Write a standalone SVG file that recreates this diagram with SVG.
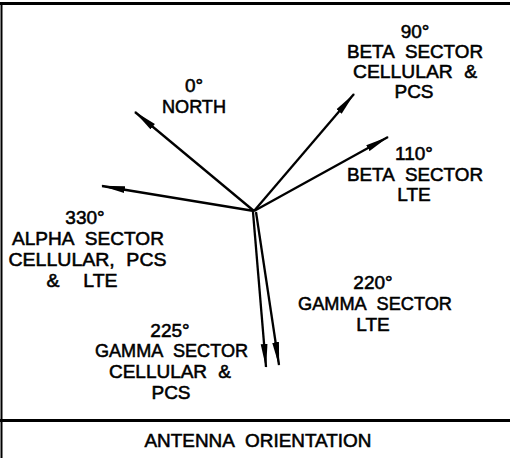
<svg xmlns="http://www.w3.org/2000/svg" width="510" height="458" viewBox="0 0 510 458">
<style>
text{font-family:"Liberation Sans",Arial,sans-serif;font-size:19px;fill:#000;text-anchor:middle;stroke:#000;stroke-width:0.55;word-spacing:6px}
.frame{stroke:#000;fill:none}
.conn line{stroke:#000;stroke-width:2.3;marker-end:url(#ah)}
</style>
<defs>
<marker id="ah" viewBox="0 0 24 8" refX="23" refY="4" markerWidth="24" markerHeight="8" markerUnits="userSpaceOnUse" orient="auto">
<path d="M0,0.6 L24,4 L0,7.4 Z" fill="#000"/>
</marker>
</defs>
<rect width="510" height="458" fill="#fff"/>
<g id="frame">
<line class="frame" x1="0" y1="3.5" x2="510" y2="3.5" stroke-width="3"/>
<line class="frame" x1="1.5" y1="2" x2="1.5" y2="458" stroke-width="2"/>
<line class="frame" x1="0" y1="420.5" x2="510" y2="420.5" stroke-width="3"/>
</g>
<g id="connectors" class="conn">
<line x1="254" y1="211" x2="135" y2="112"/>
<line x1="254" y1="211" x2="102" y2="186"/>
<line x1="254" y1="211" x2="354" y2="94"/>
<line x1="254" y1="211" x2="388" y2="137"/>
<line x1="253" y1="212" x2="266" y2="367"/>
<line x1="256" y1="212" x2="279" y2="365"/>
</g>
<g id="north">
<text x="194" y="92">0°</text>
<text x="194" y="113" textLength="64" lengthAdjust="spacingAndGlyphs">NORTH</text>
</g>
<g id="beta90">
<text x="415" y="38">90°</text>
<text x="415" y="58" textLength="136" lengthAdjust="spacingAndGlyphs">BETA SECTOR</text>
<text x="415" y="78" textLength="124" lengthAdjust="spacingAndGlyphs">CELLULAR &amp;</text>
<text x="414" y="98">PCS</text>
</g>
<g id="beta110">
<text x="414" y="160">110°</text>
<text x="415" y="181" textLength="136" lengthAdjust="spacingAndGlyphs">BETA SECTOR</text>
<text x="414" y="201">LTE</text>
</g>
<g id="alpha330">
<text x="85" y="224">330°</text>
<text x="88" y="245" textLength="152" lengthAdjust="spacingAndGlyphs">ALPHA SECTOR</text>
<text x="87.5" y="266" textLength="158" lengthAdjust="spacingAndGlyphs">CELLULAR, PCS</text>
<text x="82" y="287" textLength="71" lengthAdjust="spacingAndGlyphs" style="word-spacing:18px">&amp; LTE</text>
</g>
<g id="gamma220">
<text x="373" y="289">220°</text>
<text x="375" y="310" textLength="154" lengthAdjust="spacingAndGlyphs">GAMMA SECTOR</text>
<text x="373" y="331">LTE</text>
</g>
<g id="gamma225">
<text x="170" y="337">225°</text>
<text x="171.5" y="357" textLength="153" lengthAdjust="spacingAndGlyphs">GAMMA SECTOR</text>
<text x="170" y="378" textLength="122" lengthAdjust="spacingAndGlyphs">CELLULAR &amp;</text>
<text x="171" y="399">PCS</text>
</g>
<g id="title">
<text x="258" y="447" textLength="227" lengthAdjust="spacingAndGlyphs">ANTENNA ORIENTATION</text>
</g>
</svg>
